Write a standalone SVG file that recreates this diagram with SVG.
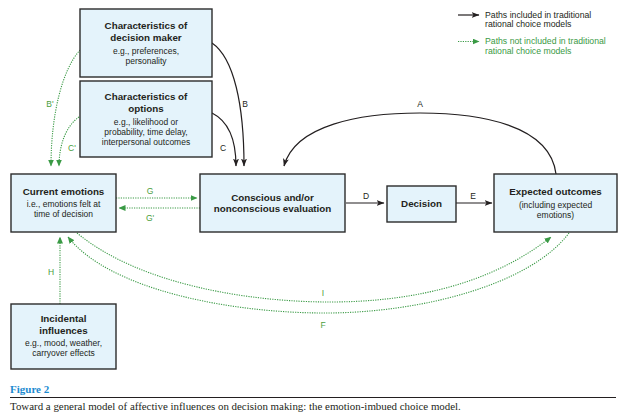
<svg xmlns="http://www.w3.org/2000/svg" width="624" height="416" viewBox="0 0 624 416">
<defs>
<style>
.box{fill:#e4f3fb;stroke:#2b2b2b;stroke-width:1.4}
.t{font-family:"Liberation Sans",Arial,sans-serif;font-weight:bold;font-size:9.8px;fill:#231f20;text-anchor:middle}
.s{font-family:"Liberation Sans",Arial,sans-serif;font-size:8.5px;fill:#231f20;text-anchor:middle}
.blk{fill:none;stroke:#231f20;stroke-width:1.2}
.grn{fill:none;stroke:#3a9a45;stroke-width:1.1;stroke-dasharray:1.2 1.2}
.lb{font-family:"Liberation Sans",Arial,sans-serif;font-size:8.5px;fill:#231f20;text-anchor:middle}
.lg{font-family:"Liberation Sans",Arial,sans-serif;font-size:8.5px;fill:#4a9e3c;text-anchor:middle}
.leg{font-family:"Liberation Sans",Arial,sans-serif;font-size:8.7px}
</style>
<marker id="ab" viewBox="0 0 8 6" refX="7.5" refY="3" markerWidth="8" markerHeight="6" markerUnits="userSpaceOnUse" orient="auto">
<path d="M0,0 L8,3 L0,6 L2,3 z" fill="#231f20"/>
</marker>
<marker id="ag" viewBox="0 0 7 6" refX="6.5" refY="3" markerWidth="7" markerHeight="6" markerUnits="userSpaceOnUse" orient="auto">
<path d="M0,0 L7,3 L0,6 z" fill="#3a9a45"/>
</marker>
</defs>
<rect width="624" height="416" fill="#ffffff"/>

<g id="connectors">
<path id="A" class="blk" d="M556,174 C550,125 480,113 420,113 C360,113 295,125 284,166" marker-end="url(#ab)"/>
<path id="B" class="blk" d="M212,43 C234,58 244,105 244,166" marker-end="url(#ab)"/>
<path id="C" class="blk" d="M212,113 C228,121 236,138 236,166" marker-end="url(#ab)"/>
<path id="D" class="blk" d="M346,203 L384,203" marker-end="url(#ab)"/>
<path id="E" class="blk" d="M456,203 L492,203" marker-end="url(#ab)"/>
<path id="Bp" class="grn" d="M80,50 C62,70 51,115 51,166" marker-end="url(#ag)"/>
<path id="Cp" class="grn" d="M79,117 C66,126 59,145 59,166" marker-end="url(#ag)"/>
<path id="G" class="grn" d="M116,198 L197,198" marker-end="url(#ag)"/>
<path id="Gp" class="grn" d="M200,208 L119,208" marker-end="url(#ag)"/>
<path id="H" class="grn" d="M60,304 L60,237" marker-end="url(#ag)"/>
<path id="I" class="grn" d="M77,233 C140,285 250,302 330,302 C410,302 490,285 551,237" marker-end="url(#ag)"/>
<path id="F" class="grn" d="M569,233 C530,285 420,313 325,313 C230,313 110,290 68,237" marker-end="url(#ag)"/>
<text class="lb" x="420" y="107">A</text>
<text class="lb" x="245" y="107">B</text>
<text class="lb" x="223" y="151">C</text>
<text class="lb" x="366" y="199">D</text>
<text class="lb" x="473" y="199">E</text>
<text class="lg" x="50" y="107">B'</text>
<text class="lg" x="72" y="151">C'</text>
<text class="lg" x="150" y="194">G</text>
<text class="lg" x="150" y="221">G'</text>
<text class="lg" x="51" y="275">H</text>
<text class="lg" x="323" y="296">I</text>
<text class="lg" x="323" y="328">F</text>
</g>

<g id="decision-maker">
<rect class="box" x="80" y="9" width="132" height="68"/>
<text class="t" x="146" y="29">Characteristics of</text>
<text class="t" x="146" y="41">decision maker</text>
<text class="s" x="146" y="54">e.g., preferences,</text>
<text class="s" x="146" y="63.5">personality</text>
</g>

<g id="options">
<rect class="box" x="80" y="81" width="132" height="76"/>
<text class="t" x="146" y="100">Characteristics of</text>
<text class="t" x="146" y="112">options</text>
<text class="s" x="146" y="125">e.g., likelihood or</text>
<text class="s" x="146" y="135">probability, time delay,</text>
<text class="s" x="146" y="145">interpersonal outcomes</text>
</g>

<g id="current-emotions">
<rect class="box" x="11" y="174" width="105" height="58"/>
<text class="t" x="63.5" y="195">Current emotions</text>
<text class="s" x="63.5" y="207">i.e., emotions felt at</text>
<text class="s" x="63.5" y="217">time of decision</text>
</g>

<g id="evaluation">
<rect class="box" x="200" y="174" width="145" height="58"/>
<text class="t" x="272.5" y="201">Conscious and/or</text>
<text class="t" x="272.5" y="212">nonconscious evaluation</text>
</g>

<g id="decision">
<rect class="box" x="387" y="186" width="69" height="36"/>
<text class="t" x="421.5" y="207">Decision</text>
</g>

<g id="expected-outcomes">
<rect class="box" x="494" y="174" width="123" height="58"/>
<text class="t" x="555.5" y="195">Expected outcomes</text>
<text class="s" x="555.5" y="208">(including expected</text>
<text class="s" x="555.5" y="218">emotions)</text>
</g>

<g id="incidental">
<rect class="box" x="11" y="304" width="105" height="65"/>
<text class="t" x="63.5" y="322">Incidental</text>
<text class="t" x="63.5" y="334">influences</text>
<text class="s" x="63.5" y="346">e.g., mood, weather,</text>
<text class="s" x="63.5" y="356">carryover effects</text>
</g>

<g id="legend">
<path class="blk" d="M458,15 L479,15" marker-end="url(#ab)"/>
<text class="leg" x="485" y="17.5" fill="#231f20">Paths included in traditional</text>
<text class="leg" x="485" y="27" fill="#231f20">rational choice models</text>
<path class="grn" d="M458,41.5 L479,41.5" marker-end="url(#ag)"/>
<text class="leg" x="485" y="44" fill="#3a9a45">Paths not included in traditional</text>
<text class="leg" x="485" y="53.5" fill="#3a9a45">rational choice models</text>
</g>

<g id="caption">
<text x="10" y="393" font-family="'Liberation Serif','Times New Roman',serif" font-weight="bold" font-size="11px" fill="#1b8ad0">Figure 2</text>
<line x1="10" y1="397.5" x2="616" y2="397.5" stroke="#231f20" stroke-width="1"/>
<text x="10" y="410" font-family="'Liberation Serif','Times New Roman',serif" font-size="10.9px" fill="#231f20">Toward a general model of affective influences on decision making: the emotion-imbued choice model.</text>
</g>
</svg>
